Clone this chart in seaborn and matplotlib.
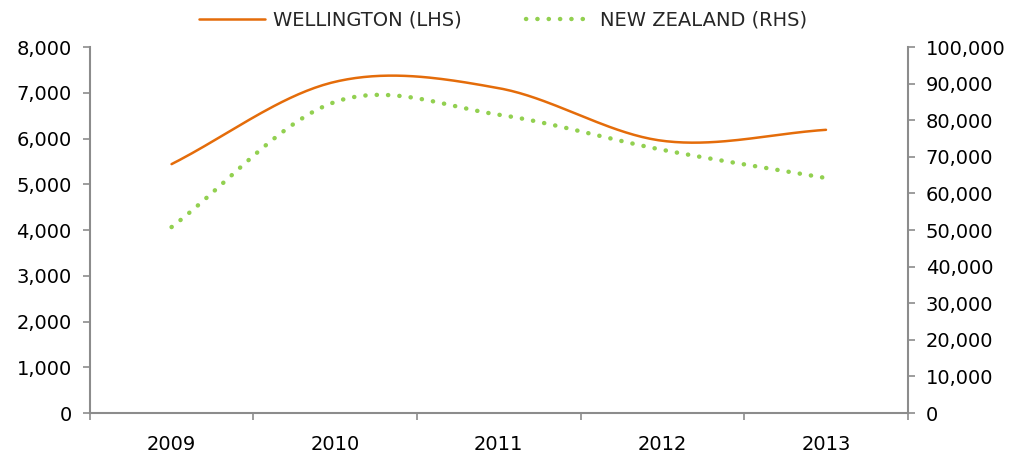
import numpy as np
import pandas as pd
import matplotlib
matplotlib.use("Agg")
import matplotlib.pyplot as plt
import seaborn as sns
from matplotlib.ticker import FuncFormatter, FixedLocator

# Data
years = ["2009", "2010", "2011", "2012", "2013"]
wellington = [5440, 7240, 7100, 5950, 6190]     # left axis
new_zealand = [50800, 85000, 81500, 71900, 64200]  # right axis

ORANGE = "#E46C0A"
GREEN = "#92D050"
GREY = "#8C8C8C"

sns.set_theme(style="white")
plt.rcParams["font.family"] = ["DejaVu Sans"]


def smooth(vals, n=40):
    # Catmull-Rom style smoothing, like Excel's "smoothed line"
    v = np.asarray(vals, dtype=float)
    k = len(v)
    tang = np.zeros(k)
    tang[1:-1] = (v[2:] - v[:-2]) / 2
    tang[0] = v[1] - v[0]
    tang[-1] = v[-1] - v[-2]
    xs, ys = [], []
    for i in range(k - 1):
        t = np.linspace(0, 1, n, endpoint=(i == k - 2))
        h00 = 2 * t**3 - 3 * t**2 + 1
        h10 = t**3 - 2 * t**2 + t
        h01 = -2 * t**3 + 3 * t**2
        h11 = t**3 - t**2
        ys.append(h00 * v[i] + h10 * tang[i] + h01 * v[i + 1] + h11 * tang[i + 1])
        xs.append(i + t)
    return np.concatenate(xs), np.concatenate(ys)


wx, wy = smooth(wellington)
nx, ny = smooth(new_zealand)
df_w = pd.DataFrame({"x": wx, "y": wy})
df_n = pd.DataFrame({"x": nx, "y": ny})

fig = plt.figure(figsize=(10.2, 4.55), dpi=100)
ax = fig.add_axes([0.088, 0.0923, 0.802, 0.8044])
ax2 = ax.twinx()

sns.lineplot(data=df_w, x="x", y="y", ax=ax, color=ORANGE, lw=1.8,
             sort=False, label="WELLINGTON (LHS)", legend=False)
sns.lineplot(data=df_n, x="x", y="y", ax=ax2, color=GREEN, lw=3.2,
             sort=False, label="NEW ZEALAND (RHS)", legend=False,
             linestyle=(0, (0.05, 2.5)), dash_capstyle="round")

ax.set_xlim(-0.5, len(years) - 0.5)
ax.set_ylim(0, 8000)
ax2.set_ylim(0, 100000)
ax.set_yticks(np.arange(0, 8001, 1000))
ax2.set_yticks(np.arange(0, 100001, 10000))
fmt = FuncFormatter(lambda v, p: f"{int(v):,}")
ax.yaxis.set_major_formatter(fmt)
ax2.yaxis.set_major_formatter(fmt)

ax.set_xticks(range(len(years)))
ax.set_xticklabels(years)
ax.xaxis.set_minor_locator(FixedLocator(np.arange(-0.5, len(years), 1)))
ax.tick_params(axis="x", which="major", length=0, pad=16, labelsize=14, colors="black")
ax.tick_params(axis="x", which="minor", length=5, width=1.2, color=GREY, direction="out", bottom=True)
ax.tick_params(axis="y", length=5, width=1.2, color=GREY, direction="out", left=True,
               labelsize=14, pad=8, labelcolor="black")
ax2.tick_params(axis="y", length=5, width=1.2, color=GREY, direction="out", right=True,
                labelsize=14, pad=8, labelcolor="black")
ax.set_xlabel("")
ax.set_ylabel("")
ax2.set_ylabel("")

for a in (ax, ax2):
    a.spines["top"].set_visible(False)
    for side in ("left", "right", "bottom"):
        a.spines[side].set_color(GREY)
        a.spines[side].set_linewidth(1.5)
ax.spines["right"].set_visible(False)
ax2.spines["left"].set_visible(False)
ax2.spines["bottom"].set_visible(False)

h1, l1 = ax.get_legend_handles_labels()
h2, l2 = ax2.get_legend_handles_labels()
fig.legend(h1 + h2, l1 + l2, loc="center", bbox_to_anchor=(0.493, 0.955), ncol=2,
           frameon=False, fontsize=14, handlelength=3.4, columnspacing=3.3,
           handletextpad=0.4)

fig.savefig("out.png", dpi=100)
